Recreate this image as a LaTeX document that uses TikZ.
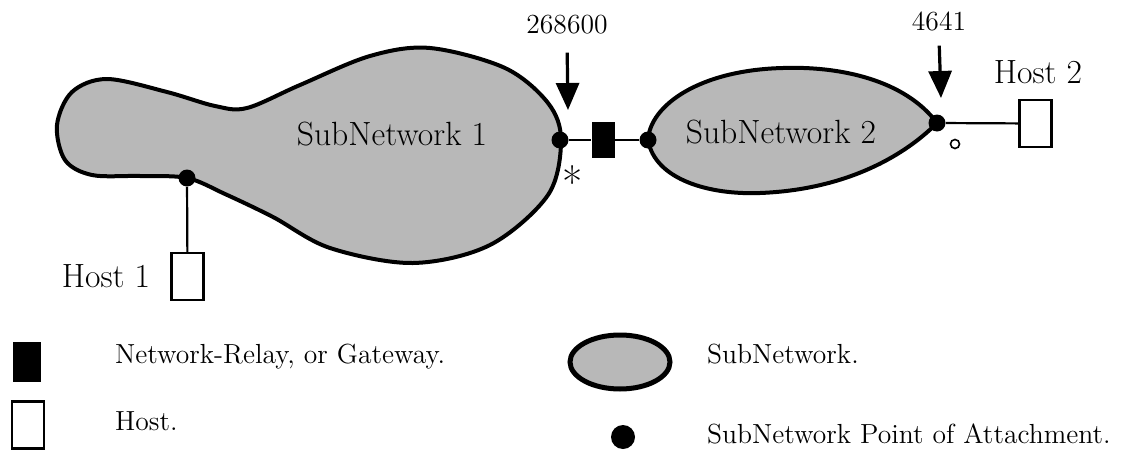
\documentclass[tikz,border=0pt]{standalone}
\usetikzlibrary{arrows.meta}

\begin{document}
\begin{tikzpicture}[x=0.5pt, y=-0.5pt,
    subnet/.style={draw, line width=2pt, fill=black!28},
    attach/.style={circle, fill=black, inner sep=0pt, minimum size=8.5pt},
    gateway/.style={rectangle, fill=black, inner sep=0pt, minimum width=11.5pt, minimum height=18pt},
    host/.style={rectangle, draw, line width=1.1pt, fill=white, inner sep=0pt, minimum width=16pt, minimum height=23.5pt},
    link/.style={line width=1.1pt},
    pointer/.style={-{Triangle[length=13.5pt, width=11.5pt]}, line width=1.6pt},
    big/.style={font=\fontsize{16.8}{20}\selectfont},
    small/.style={font=\fontsize{13.8}{16}\selectfont}]
    \useasboundingbox (0, 0) rectangle (1137, 450);

    % subnetworks
    \draw[subnet] plot[smooth cycle, tension=0.55] coordinates {
        (187,178) (140,176) (92,175) (65,160) (57,125) (72,92) (107,79)
        (167,92) (215,106) (247,108) (300,85) (370,56) (430,48) (505,68)
        (548,103) (561,140) (548,195) (490,245) (413,263) (330,248)
        (273,217) (225,194)};
    \draw[subnet] (937,123) .. controls (905,80) and (840,66) .. (783,68)
        .. controls (700,70) and (650,105) .. (648,140)
        .. controls (655,180) and (710,195) .. (760,193)
        .. controls (840,190) and (900,160) .. cycle;
    \node[big, anchor=base] (sn1) at (392, 145) {SubNetwork 1};
    \node[big, anchor=base] (sn2) at (781, 143) {SubNetwork 2};

    % attachment points, gateway and hosts
    \node[attach] (p1) at (187, 178) {};
    \node[attach] (p2) at (560, 140) {};
    \node[attach] (p3) at (648, 140) {};
    \node[attach] (p4) at (937, 123) {};
    \node[gateway] (gw) at (603, 140) {};
    \node[host] (h1) at (187.5, 276.5) {};
    \node[host] (h2) at (1035.5, 123.5) {};
    \draw[link] (p2) -- (gw) -- (p3);
    \draw[link] (p1) -- (h1);
    \draw[link] (p4) -- (h2);
    \node[big, anchor=base] (h1lbl) at (106, 287) {Host 1};
    \node[big, anchor=base] (h2lbl) at (1038, 83) {Host 2};

    % marked addresses
    \node[small, anchor=base] (adr1) at (567, 33) {268600};
    \node[small, anchor=base] (adr2) at (939, 30) {4641};
    \coordinate (tip1) at (568, 110);
    \coordinate (tip2) at (941, 98);
    \draw[pointer, shorten <=6pt] (adr1.south) -- (tip1);
    \draw[pointer, shorten <=4pt] (adr2.south) -- (tip2);
    \node[font=\fontsize{22}{24}\selectfont, inner sep=0pt] (star) at (573, 182) {*};
    \node[circle, draw, line width=0.8pt, inner sep=0pt, minimum size=4.5pt] (ring) at (955, 144) {};

    % legend
    \node[gateway, minimum width=14pt, minimum height=20pt] (lgw) at (27, 362) {};
    \node[host] (lhost) at (28, 425) {};
    \draw[line width=2.5pt, fill=black!28] (620, 362) ellipse (25pt and 13.5pt);
    \node[attach, minimum size=12pt] (lpt) at (623, 437) {};
    \node[small, anchor=base west] (lgwtxt) at (108, 363) {Network-Relay, or Gateway.};
    \node[small, anchor=base west] (lhosttxt) at (108, 430) {Host.};
    \node[small, anchor=base west] (lsntxt) at (700, 363) {SubNetwork.};
    \node[small, anchor=base west] (lpttxt) at (700, 443) {SubNetwork Point of Attachment.};
\end{tikzpicture}
\end{document}
